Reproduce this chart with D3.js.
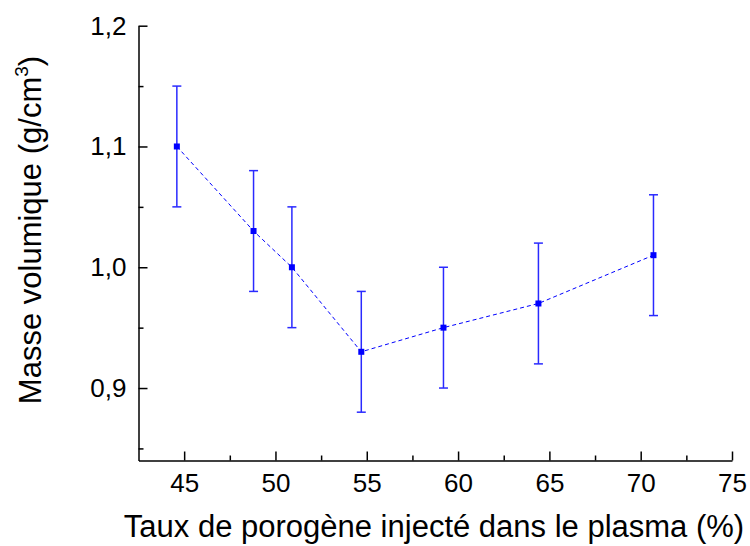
<!DOCTYPE html>
<html>
<head>
<meta charset="utf-8">
<script src="https://cdn.jsdelivr.net/npm/d3@7"></script>
<style>
  body { margin: 0; background: #fff; }
  svg text { font-family: "Liberation Sans", Arial, sans-serif; fill: #000; }
</style>
</head>
<body>
<div id="chart"></div>
<script>
// data
var porogen = [44.6, 48.8, 50.9, 54.7, 59.2, 64.4, 70.7];
var density = [1.10, 1.03, 1.00, 0.93, 0.95, 0.97, 1.01];
var errBar  = [0.05, 0.05, 0.05, 0.05, 0.05, 0.05, 0.05];
var xTicks = [45, 50, 55, 60, 65, 70, 75];
var xMinor = [47.5, 52.5, 57.5, 62.5, 67.5, 72.5];
var yTicks = [0.9, 1.0, 1.1, 1.2];
var yMinor = [0.85, 0.95, 1.05, 1.15];

var width = 750, height = 546;
var blue = "#0000ff";

var svg = d3.select("#chart").append("svg")
    .attr("width", width)
    .attr("height", height);

var x = d3.scaleLinear().domain([42.5, 75]).range([138.5, 732]);
var y = d3.scaleLinear().domain([0.84, 1.2]).range([460.5, 25.7]);

var fmt = function(d) { return d3.format(".1f")(d).replace(".", ","); };

// minor ticks first, then main axes on top
svg.append("g")
    .attr("transform", "translate(0," + y.range()[0] + ")")
    .call(d3.axisBottom(x).tickValues(xMinor).tickSize(-5).tickFormat(""))
    .call(function(g) { g.select(".domain").remove(); });
svg.append("g")
    .attr("transform", "translate(" + x.range()[0] + ",0)")
    .call(d3.axisLeft(y).tickValues(yMinor).tickSize(-5).tickFormat(""))
    .call(function(g) { g.select(".domain").remove(); });

var gx = svg.append("g")
    .attr("transform", "translate(0," + y.range()[0] + ")")
    .call(d3.axisBottom(x).tickValues(xTicks).tickSize(-9).tickSizeOuter(0).tickPadding(13));
gx.selectAll("text").attr("font-size", 26).style("font-family", null);

var gy = svg.append("g")
    .attr("transform", "translate(" + x.range()[0] + ",0)")
    .call(d3.axisLeft(y).tickValues(yTicks).tickSize(-9).tickSizeOuter(0).tickPadding(12).tickFormat(fmt));
gy.selectAll("text").attr("font-size", 26).style("font-family", null);

svg.selectAll(".domain, .tick line").attr("stroke", "#000").attr("stroke-width", 1.5);

// axis titles
svg.append("text")
    .attr("x", 434)
    .attr("y", 537)
    .attr("text-anchor", "middle")
    .attr("font-size", 31)
    .text("Taux de porogène injecté dans le plasma (%)");

var yt = svg.append("text")
    .attr("transform", "translate(41,230) rotate(-90)")
    .attr("text-anchor", "middle")
    .attr("font-size", 31);
yt.append("tspan").text("Masse volumique (g/cm");
yt.append("tspan").attr("dy", -13).attr("font-size", 19).text("3");
yt.append("tspan").attr("dy", 13).text(")");

var pts = porogen.map(function(p, i) { return { x: p, y: density[i], e: errBar[i] }; });

// dashed connecting line
svg.append("path")
    .datum(pts)
    .attr("fill", "none")
    .attr("stroke", blue)
    .attr("stroke-width", 1)
    .attr("stroke-dasharray", "4,3")
    .attr("d", d3.line().x(function(d) { return x(d.x); }).y(function(d) { return y(d.y); }));

// error bars
var eb = svg.append("g").attr("stroke", "#2a2aff").attr("stroke-width", 1.5);
eb.selectAll("line.v").data(pts).enter().append("line")
    .attr("x1", function(d) { return x(d.x); })
    .attr("x2", function(d) { return x(d.x); })
    .attr("y1", function(d) { return y(d.y + d.e); })
    .attr("y2", function(d) { return y(d.y - d.e); });
eb.selectAll("line.t").data(pts).enter().append("line")
    .attr("x1", function(d) { return x(d.x) - 4.5; })
    .attr("x2", function(d) { return x(d.x) + 4.5; })
    .attr("y1", function(d) { return y(d.y + d.e); })
    .attr("y2", function(d) { return y(d.y + d.e); });
eb.selectAll("line.b").data(pts).enter().append("line")
    .attr("x1", function(d) { return x(d.x) - 4.5; })
    .attr("x2", function(d) { return x(d.x) + 4.5; })
    .attr("y1", function(d) { return y(d.y - d.e); })
    .attr("y2", function(d) { return y(d.y - d.e); });

// square markers
svg.append("g").selectAll("rect").data(pts).enter().append("rect")
    .attr("x", function(d) { return x(d.x) - 3; })
    .attr("y", function(d) { return y(d.y) - 3; })
    .attr("width", 6)
    .attr("height", 6)
    .attr("fill", blue);
</script>
</body>
</html>
